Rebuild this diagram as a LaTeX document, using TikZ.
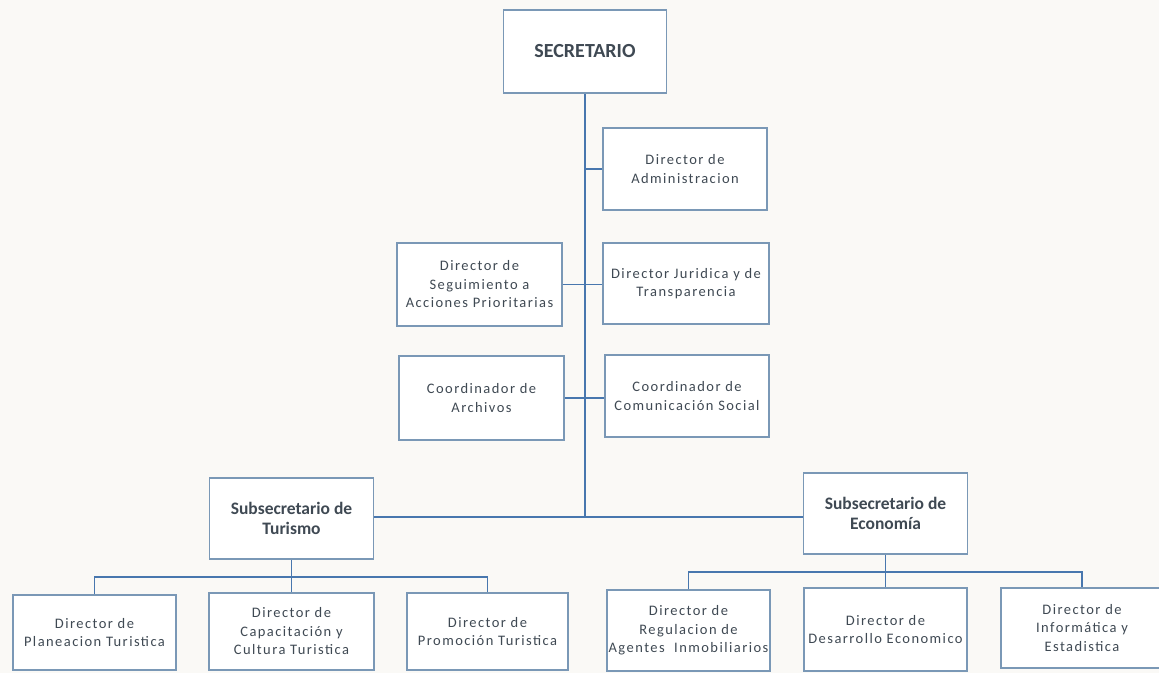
\documentclass[tikz,border=0pt]{standalone}
\usepackage{fontspec}
\setmainfont{Carlito}
\newfontfamily\spacedfont[LetterSpace=10]{Carlito}
\definecolor{bgc}{HTML}{FAF9F6}
\definecolor{boxc}{HTML}{7A98B6}
\definecolor{linec}{HTML}{4877AE}
\definecolor{txtc}{HTML}{3F4953}
\begin{document}
\begin{tikzpicture}[x=1pt,y=-1pt,
  box/.style={draw=boxc, line width=1.5pt, fill=white, inner sep=0pt, align=center, text=txtc,
    font=\spacedfont\fontsize{14.5}{18.5}\selectfont},
  headbox/.style={box, font=\bfseries\fontsize{17.5}{20}\selectfont},
  conn/.style={draw=linec, line width=1.7pt}]
\path[use as bounding box, fill=bgc] (0,0) rectangle (1159,673);
\clip (0,0) rectangle (1159,673);

\node[box, minimum width=163, minimum height=83, font=\bfseries\fontsize{20}{22}\selectfont] (sec) at (585,51.5) {SECRETARIO};
\node[box, minimum width=164, minimum height=82] (adm) at (685,169) {Director de\\Administracion};
\node[box, minimum width=165, minimum height=83] (seg) at (479.5,284.5) {Director de\\Seguimiento a\\Acciones Prioritarias};
\node[box, minimum width=166, minimum height=81] (jur) at (686,283.5) {Director Juridica y de\\Transparencia};
\node[box, minimum width=165, minimum height=84] (arc) at (481.5,398) {Coordinador de\\Archivos};
\node[box, minimum width=164, minimum height=82] (com) at (687,396) {Coordinador de\\Comunicación Social};
\node[headbox, minimum width=164, minimum height=81] (stur) at (291.5,518.5) {Subsecretario de\\Turismo};
\node[headbox, minimum width=164, minimum height=81] (seco) at (885.5,513.5) {Subsecretario de\\Economía};

\node[box, minimum width=163, minimum height=75] (pla) at (94.5,632.5) {Director de\\Planeacion Turistica};
\node[box, minimum width=165, minimum height=77] (cap) at (291.5,631.5) {Director de\\Capacitación y\\Cultura Turistica};
\node[box, minimum width=161, minimum height=77] (pro) at (487.5,631.5) {Director de\\Promoción Turistica};
\node[box, minimum width=163, minimum height=81] (reg) at (688.5,630.5) {Director de\\Regulacion de\\Agentes\ \ Inmobiliarios};
\node[box, minimum width=163, minimum height=83] (des) at (885.5,629.5) {Director de\\Desarrollo Economico};
\node[box, minimum width=162, minimum height=80] (inf) at (1082,628) {Director de\\Informática y\\Estadistica};

\coordinate (mj) at (585,517);
\coordinate (tj) at (291.5,577);
\coordinate (ej) at (885.5,572);

\draw[conn] (sec.south) -- (mj);
\draw[conn] (adm.west) -- (adm.west -| mj);
\draw[conn] (seg.east) -- (seg.east -| jur.west);
\draw[conn] (arc.east) -- (arc.east -| com.west);
\draw[conn] (stur.east |- mj) -- (seco.west |- mj);

\draw[conn] (stur.south) -- (tj);
\draw[conn] (pla.north) |- (tj) -| (pro.north);
\draw[conn] (tj) -- (cap.north);

\draw[conn] (seco.south) -- (ej);
\draw[conn] (reg.north) |- (ej) -| (inf.north);
\draw[conn] (ej) -- (des.north);
\end{tikzpicture}
\end{document}
